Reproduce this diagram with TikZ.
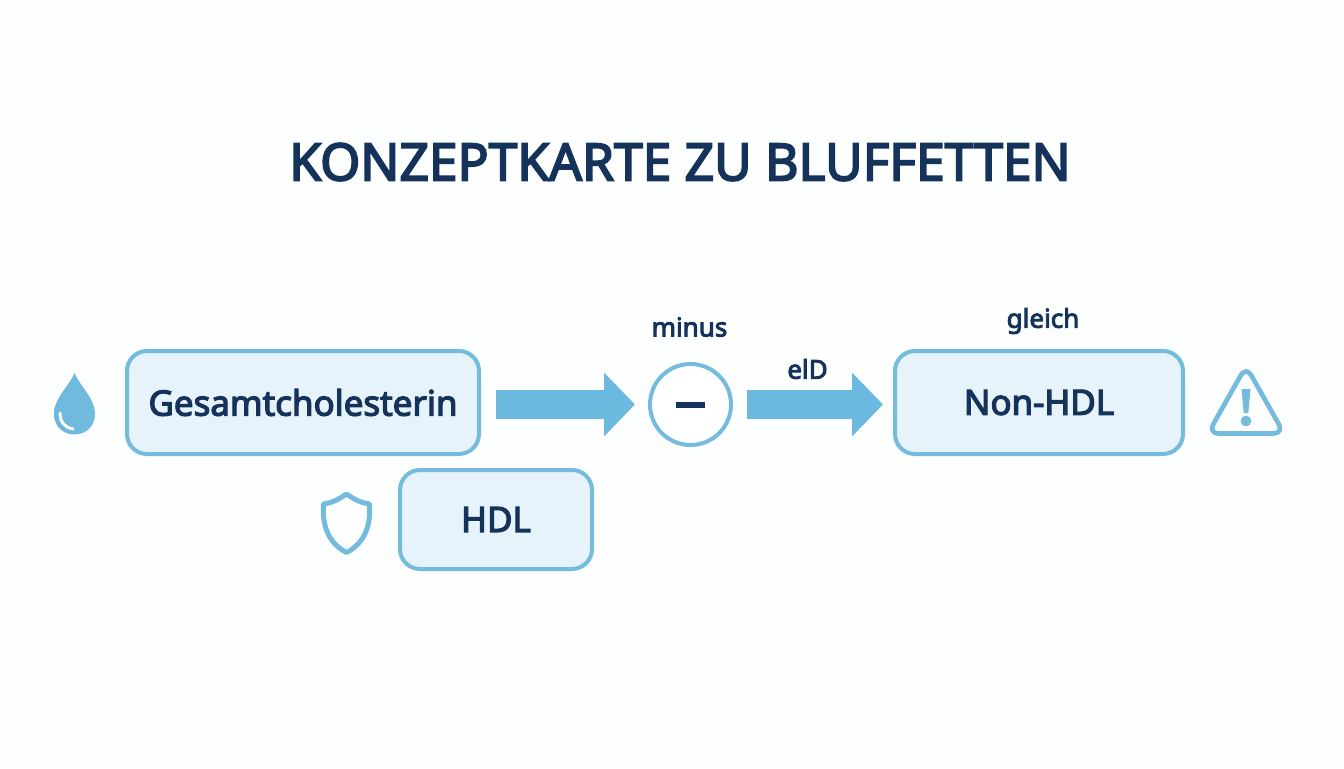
\documentclass[tikz,border=0pt]{standalone}
\usepackage{fontspec}
\setmainfont{Noto Sans}[BoldFont={Noto Sans},BoldFeatures={FakeBold=3.5}]
\usetikzlibrary{arrows.meta}
\definecolor{navy}{HTML}{14325A}
\definecolor{skyline}{HTML}{74BBDD}
\definecolor{skyfill}{HTML}{E7F3FA}
\definecolor{skyarrow}{HTML}{6BB9DF}
\definecolor{paper}{HTML}{FDFEFE}
\tikzset{
  px/.style={x=0.75pt,y=-0.75pt},
  conceptbox/.style={draw=skyline,fill=skyfill,line width=3pt,rounded corners=15pt,inner sep=0pt,
    text=navy,font=\fontsize{26.2pt}{30pt}\selectfont\bfseries,align=center},
  oplabel/.style={text=navy,font=\fontsize{19.5pt}{23pt}\selectfont\bfseries,inner sep=0pt},
  fatarrow/.style={draw=skyarrow,line width=21.75pt,
    -{Triangle[length=23.25pt,width=46.5pt,color=skyarrow]}},
  iconline/.style={draw=skyline,line width=3.5pt,line join=round,fill=none}
}
\begin{document}
\begin{tikzpicture}[px]
\useasboundingbox (0,0) rectangle (1344,768);
\fill[paper] (0,0) rectangle (1344,768);
\node[text=navy,font=\fontsize{38.6pt}{44pt}\selectfont\bfseries,inner sep=0pt] (title) at (680,162) {KONZEPTKARTE ZU BLUFFETTEN};
\node[conceptbox,minimum width=264pt,minimum height=77.25pt] (gesamt) at (303,402.5) {Gesamtcholesterin};
\node[conceptbox,minimum width=144pt,minimum height=74.25pt] (hdl) at (496,519.5) {HDL};
\node[conceptbox,minimum width=216pt,minimum height=77.25pt] (nonhdl) at (1039,402.5) {Non-HDL};
\node[circle,draw=skyline,fill=white,line width=3pt,minimum size=60.75pt,inner sep=0pt] (minus) at (690.5,404.5) {};
\fill[navy] (675.5,402) rectangle (705,407.5);
\node[oplabel] (minuslabel) at (689.5,327) {minus};
\node[oplabel] (eld) at (807.5,369) {elD};
\node[oplabel] (gleich) at (1043,321) {gleich};
\draw[fatarrow,shorten <=11.25pt,shorten >=9.75pt] (gesamt.east |- minus.center) -- (minus.west);
\draw[fatarrow,shorten <=10.5pt,shorten >=7.5pt] (minus.east) -- (nonhdl.west |- minus.center);
% drop
\shade[left color=skyarrow,right color=skyline] (74.5,373) .. controls (70,385) and (54,398) .. (54,414)
  .. controls (54,426) and (63,434.5) .. (74.5,434.5)
  .. controls (86,434.5) and (95,426) .. (95,414)
  .. controls (95,398) and (79,385) .. (74.5,373) -- cycle;
\draw[white,line width=2.2pt,line cap=round] (60,413) .. controls (60,423) and (66,428) .. (73,429);
% shield
\draw[iconline,line width=3.75pt] (346.5,494) .. controls (338,500) and (331,503) .. (323.5,504)
  .. controls (322,525) and (328,543) .. (346.5,552.5)
  .. controls (365,543) and (371,525) .. (369.5,504)
  .. controls (362,503) and (355,500) .. (346.5,494) -- cycle;
% warning
\draw[iconline,rounded corners=8pt] (1246,366) -- (1284,433.5) -- (1208,433.5) -- cycle;
\fill[skyline] (1241.5,389) -- (1250.5,389) -- (1248.3,413) -- (1243.7,413) -- cycle;
\fill[skyline] (1246,421) circle (4pt);
\end{tikzpicture}
\end{document}
